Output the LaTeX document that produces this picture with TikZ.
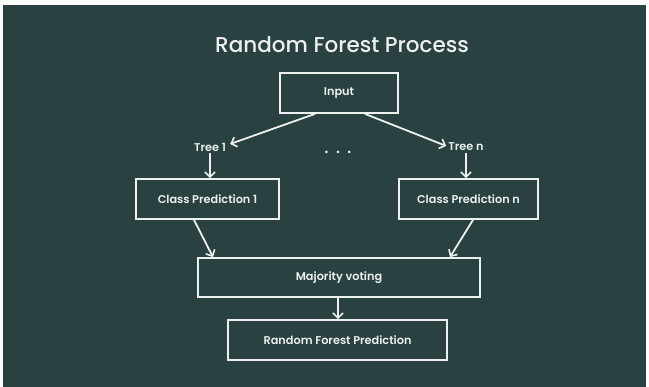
\documentclass[tikz,border=0pt]{standalone}
\usepackage{fontspec}
\setmainfont{Poppins}[BoldFont={Poppins SemiBold}]
\newfontfamily\titlefont{Poppins Medium}
\usetikzlibrary{arrows.meta}
\definecolor{bgdark}{RGB}{41,65,64}
\definecolor{fg}{RGB}{236,240,239}
\begin{document}
\begin{tikzpicture}[x=1pt,y=-1pt,
  box/.style={draw=fg,line width=1.8pt,fill=bgdark,text=fg,inner sep=0pt,font=\bfseries\fontsize{11.3}{13}\selectfont},
  lbl/.style={text=fg,inner sep=1pt,font=\bfseries\fontsize{11.3}{13}\selectfont},
  conn/.style={draw=fg,line width=1.8pt,-{Straight Barb[length=5pt,width=10pt,line width=1.6pt]}}]
\fill[white] (0,0) rectangle (649,387);
\fill[bgdark] (3,5) rectangle (646,387);
\useasboundingbox (0,0) rectangle (649,387);
\node[text=fg,font=\titlefont\fontsize{21.5}{26}\selectfont] (title) at (342,45) {Random Forest Process};
\node[box,minimum width=118pt,minimum height=40pt] (input) at (339,93) {Input};
\node[lbl] (t1) at (210,147) {Tree 1};
\node[lbl] (tn) at (466,147) {Tree n};
\node[text=fg,font=\bfseries\fontsize{15}{15}\selectfont] (dots) at (338,152) {.\,\,\,.\,\,\,.};
\node[box,minimum width=143pt,minimum height=40pt] (cp1) at (207.5,199) {Class Prediction 1};
\node[box,minimum width=139pt,minimum height=40pt] (cpn) at (468.5,199) {Class Prediction n};
\node[box,minimum width=282pt,minimum height=39pt] (mv) at (339,277.5) {Majority voting};
\node[box,minimum width=219pt,minimum height=40pt] (rfp) at (337.5,340) {Random Forest Prediction};
\draw[conn] ([xshift=-24pt]input.south) -- ([shift={(3pt,3pt)}]t1.east);
\draw[conn] ([xshift=26pt]input.south) -- ([shift={(-1pt,1pt)}]tn.west);
\draw[conn] ([yshift=-1pt]t1.south) -- (t1.south |- cp1.north);
\draw[conn] ([yshift=-1pt]tn.south) -- (tn.south |- cpn.north);
\draw[conn] ([xshift=-13.5pt]cp1.south) -- ([xshift=-126pt]mv.north);
\draw[conn] ([xshift=4.5pt]cpn.south) -- ([xshift=111pt]mv.north);
\draw[conn] ([xshift=-1pt]mv.south) -- ([xshift=-1pt]mv.south |- rfp.north);
\end{tikzpicture}
\end{document}
